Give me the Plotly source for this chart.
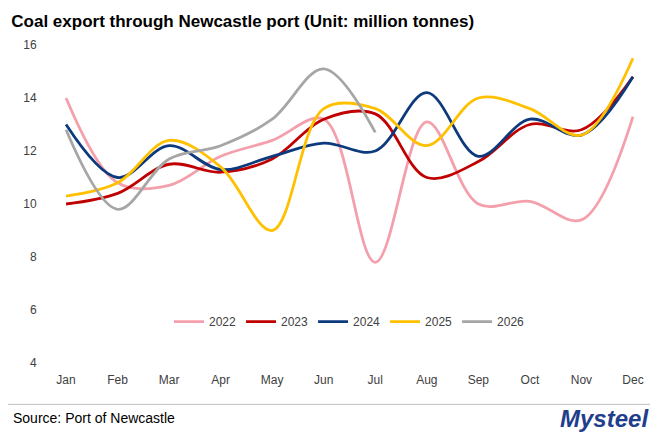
import plotly.graph_objects as go

months = ["Jan","Feb","Mar","Apr","May","Jun","Jul","Aug","Sep","Oct","Nov","Dec"]
v2022 = [14.0,10.8,10.7,11.8,12.4,13.2,7.8,13.1,10.0,10.1,9.4,13.3]
v2023 = [10.0,10.4,11.5,11.2,11.7,13.2,13.4,11.0,11.6,13.0,12.8,14.8]
v2024 = [13.0,11.0,12.2,11.3,11.8,12.3,12.0,14.2,11.8,13.2,12.6,14.8]
v2025 = [10.3,10.8,12.4,11.4,9.0,13.6,13.6,12.2,14.0,13.6,12.6,15.5]
v2026 = [12.8,9.8,11.7,12.2,13.2,15.1,12.7]
series = [("2022",v2022,"#F4A0AC"),("2023",v2023,"#C00000"),("2024",v2024,"#0C3A7D"),
          ("2025",v2025,"#FFC000"),("2026",v2026,"#A6A6A6")]

fig = go.Figure()
for name, vals, col in series:
    fig.add_trace(go.Scatter(x=months[:len(vals)], y=vals, name=name, mode="lines",
                             line=dict(color=col, width=2.8, shape="spline", smoothing=1.0)))
fig.update_layout(
    width=658, height=447, paper_bgcolor="white", plot_bgcolor="white",
    margin=dict(l=40, r=15, t=37, b=92, autoexpand=False),
    font=dict(family="Liberation Sans, Arial", size=12, color="#404040"),
    title=dict(text="<b>Coal export through Newcastle port (Unit: million tonnes)</b>",
               x=0.005, xanchor="left", y=0.985, yanchor="top", font=dict(size=17, color="black")),
    xaxis=dict(range=[-0.35, 11.35], showgrid=False, showline=False, ticks="outside",
               ticklen=6, tickcolor="white", tickfont=dict(size=12)),
    yaxis=dict(range=[4,16], dtick=2, showgrid=False, showline=False, zeroline=False,
               ticks="outside", ticklen=8, tickcolor="white", tickfont=dict(size=12)),
    legend=dict(orientation="h", x=0.5, xanchor="center", y=0.13, yanchor="middle",
                font=dict(size=12), bgcolor="rgba(0,0,0,0)"),
    showlegend=True,
)
fig.add_shape(type="line", xref="paper", yref="paper", x0=-0.07, x1=1.03, y0=-0.13, y1=-0.13,
              line=dict(color="#BFBFBF", width=1))
fig.add_annotation(text="Source: Port of Newcastle", xref="paper", yref="paper", x=-0.062, y=-0.14,
                   xanchor="left", yanchor="top", showarrow=False, font=dict(size=14, color="black"))
fig.add_annotation(text="<b><i>Mysteel </i></b>", xref="paper", yref="paper", x=1.01, y=-0.125,
                   xanchor="right", yanchor="top", showarrow=False, font=dict(size=24, color="#1F3E8C"))
fig.write_html("out.html")
